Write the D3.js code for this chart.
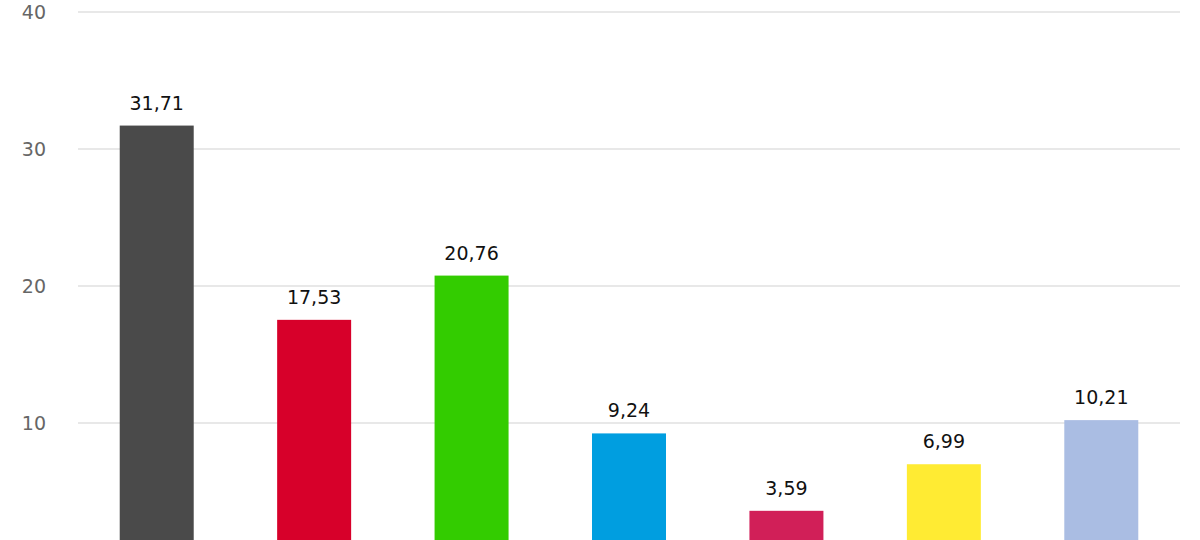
<!DOCTYPE html>
<html><head><meta charset="utf-8">
<script src="https://cdn.jsdelivr.net/npm/d3@7"></script>
<style>body{margin:0;background:#fff}</style></head>
<body><svg id="c" width="1200" height="540"></svg>
<script>
const categories = ["A","B","C","D","E","F","G"];
const values = [31.71, 17.53, 20.76, 9.24, 3.59, 6.99, 10.21];
const colors = ["#4a4a4a","#d7002a","#33cc00","#009ee0","#d11f58","#ffeb33","#aabde3"];
const ticks = [10, 20, 30, 40];

const svg = d3.select("#c");
const x = d3.scaleBand().domain(categories).range([78, 1180]).paddingInner(0.53).paddingOuter(0.265);
const y = d3.scaleLinear().domain([0, 40]).range([560, 12]);

svg.selectAll("line.g").data(ticks).join("line")
  .attr("x1", 78).attr("x2", 1180)
  .attr("y1", d => y(d)).attr("y2", d => y(d))
  .attr("stroke", "#e0e0e0").attr("stroke-width", 1.5);
svg.selectAll("text.t").data(ticks).join("text")
  .attr("x", 46).attr("y", d => y(d) + 7).attr("text-anchor", "end")
  .attr("font-family", "DejaVu Sans").attr("font-size", 19).attr("fill", "#666")
  .text(d => d);

svg.selectAll("rect").data(values).join("rect")
  .attr("x", (d, i) => x(categories[i])).attr("width", x.bandwidth())
  .attr("y", d => y(d)).attr("height", d => y(0) - y(d))
  .attr("fill", (d, i) => colors[i]);

svg.selectAll("text.v").data(values).join("text")
  .attr("x", (d, i) => x(categories[i]) + x.bandwidth() / 2)
  .attr("y", d => y(d) - 16).attr("text-anchor", "middle")
  .attr("font-family", "DejaVu Sans").attr("font-size", 19).attr("fill", "#111")
  .text(d => d.toFixed(2).replace(".", ","));
</script></body></html>
